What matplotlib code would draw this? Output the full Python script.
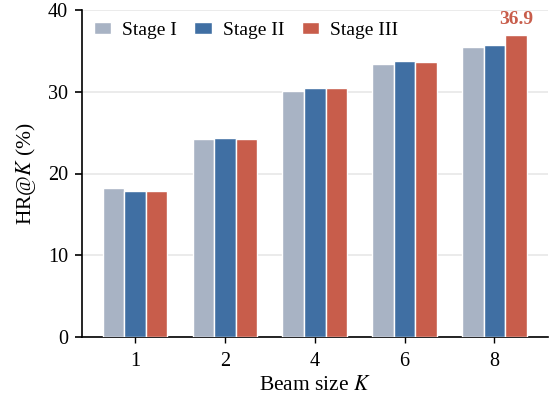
import numpy as np
import matplotlib
matplotlib.use('Agg')
import matplotlib.pyplot as plt

plt.rcParams['font.family'] = ['Liberation Serif', 'DejaVu Serif']
plt.rcParams['mathtext.fontset'] = 'stix'

"""
Data
"""
beam_sizes = ['1', '2', '4', '6', '8']
stage_names = ['Stage I', 'Stage II', 'Stage III']
stage1 = [18.2, 24.2, 30.1, 33.4, 35.5]
stage2 = [17.9, 24.3, 30.5, 33.8, 35.7]
stage3 = [17.8, 24.2, 30.5, 33.7, 36.9]
colors = ['#A8B3C4', '#406FA3', '#C85D4B']

x = np.arange(len(beam_sizes))
w = 0.24

fig = plt.figure(figsize=(5.51, 4.0), dpi=100)
ax = fig.add_axes([0.149, 0.1575, 0.846, 0.8175])

for k, (vals, name) in enumerate(zip([stage1, stage2, stage3], stage_names)):
    ax.bar(x + (k - 1)*w, vals, w, color=colors[k], edgecolor='white',
           linewidth=1.0, label=name, zorder=3)

# highlight best value
ax.text(x[-1] + w, stage3[-1] + 0.9, '%.1f' % stage3[-1], ha='center',
        va='bottom', color=colors[2], fontsize=14, fontweight='bold')

ax.set_xlim(-0.59, 4.6)
ax.set_ylim(0, 40)
ax.set_yticks([0, 10, 20, 30, 40])
ax.set_xticks(x)
ax.set_xticklabels(beam_sizes)
ax.tick_params(axis='y', labelsize=14.5, length=5, width=1.2, pad=5)
ax.tick_params(axis='x', labelsize=14.5, length=4.5, width=1.0, pad=6)
ax.yaxis.grid(True, color='#e8e8e8', linewidth=1.2, zorder=0)
ax.set_axisbelow(True)
for s in ['top', 'right']:
    ax.spines[s].set_visible(False)
ax.spines['left'].set_linewidth(1.2)
ax.spines['bottom'].set_linewidth(1.2)
ax.spines['bottom'].set_zorder(2)

ax.set_xlabel('Beam size $K$', fontsize=15.5, labelpad=4)
ax.set_ylabel('HR@$K$ (%)', fontsize=15.5, labelpad=7)

ax.legend(loc='upper left', ncol=3, frameon=False, fontsize=14,
          handlelength=0.9, handleheight=0.55, columnspacing=0.9,
          handletextpad=0.55, borderaxespad=0.2, bbox_to_anchor=(0.0, 1.0))

fig.savefig('out.png', dpi=100)
